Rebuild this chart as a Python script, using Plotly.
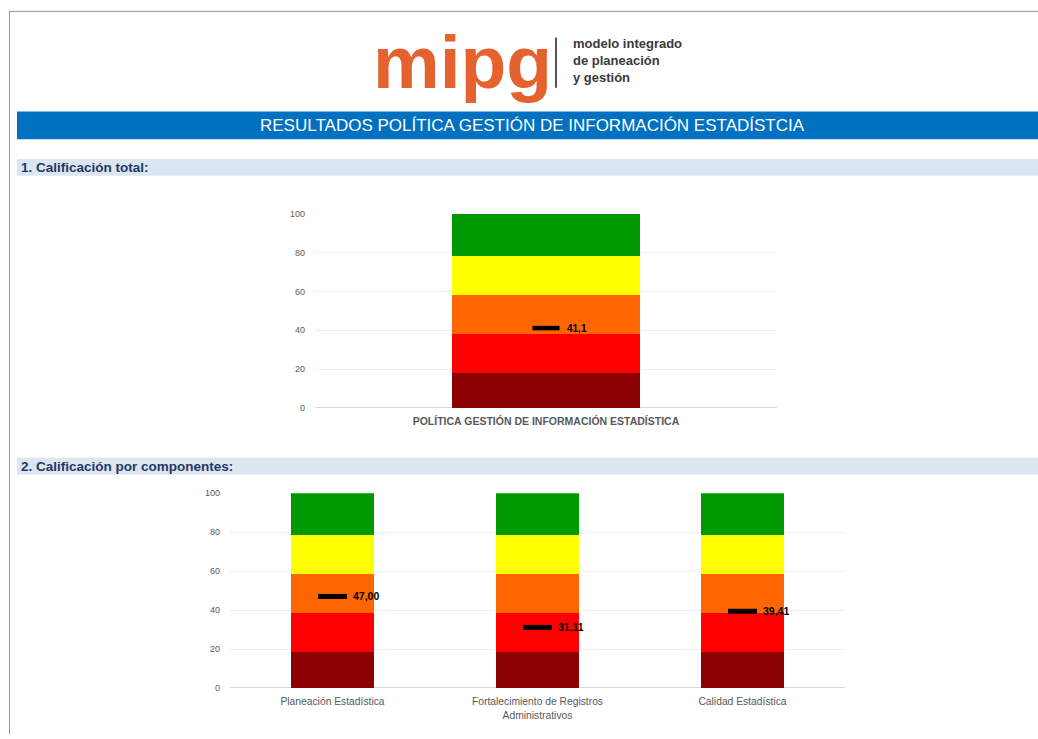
import plotly.graph_objects as go

W, H = 1038, 739

# ---- data ----
total_category = ["POLÍTICA GESTIÓN DE INFORMACIÓN ESTADÍSTICA"]
total_value = [41.1]
total_label = ["41,1"]

comp_categories = ["Planeación Estadística",
                   "Fortalecimiento de Registros<br>Administrativos",
                   "Calidad Estadística"]
comp_values = [47.00, 31.11, 39.41]
comp_labels = ["47,00", "31,11", "39,41"]

band_sizes = [18.4, 20.0, 20.0, 20.1, 21.5]
band_colors = ["#8B0000", "#FF0000", "#FF6600", "#FFFF00", "#009900"]

y_ticks = [0, 20, 40, 60, 80, 100]


def px(x):
    return x / W


def py(y):
    return 1 - y / H


FONT = "Liberation Sans, Arial, sans-serif"
fig = go.Figure()

# bands chart 1
for size, color in zip(band_sizes, band_colors):
    fig.add_trace(go.Bar(x=total_category, y=[size], marker_color=color,
                         marker_line_width=0, width=0.405, xaxis="x", yaxis="y",
                         showlegend=False, hoverinfo="skip"))
# bands chart 2
for size, color in zip(band_sizes, band_colors):
    fig.add_trace(go.Bar(x=comp_categories, y=[size] * len(comp_categories),
                         marker_color=color, marker_line_width=0, width=0.405,
                         xaxis="x2", yaxis="y2", showlegend=False, hoverinfo="skip"))

# markers (line-ew length = 1.4 * size)
fig.add_trace(go.Scatter(x=total_category, y=total_value, mode="markers",
                         marker=dict(symbol="line-ew", size=19.3, color="black",
                                     line=dict(width=4.5, color="black")),
                         xaxis="x", yaxis="y", showlegend=False, hoverinfo="skip"))
fig.add_trace(go.Scatter(x=comp_categories, y=comp_values, mode="markers",
                         marker=dict(symbol="line-ew", size=20.7, color="black",
                                     line=dict(width=5, color="black")),
                         xaxis="x2", yaxis="y2", showlegend=False, hoverinfo="skip"))

annotations = []
for c, v, t in zip(total_category, total_value, total_label):
    annotations.append(dict(x=c, y=v, xref="x", yref="y", text="<b>%s</b>" % t,
                            showarrow=False, xanchor="left", xshift=18.5,
                            font=dict(family=FONT, size=10, color="black")))
for c, v, t in zip(comp_categories, comp_values, comp_labels):
    annotations.append(dict(x=c, y=v, xref="x2", yref="y2", text="<b>%s</b>" % t,
                            showarrow=False, xanchor="left", xshift=18.5,
                            font=dict(family=FONT, size=10.5, color="black")))

# title & section texts
annotations.append(dict(x=px(532), y=py(122), xref="paper", yref="paper",
                        text="RESULTADOS POLÍTICA GESTIÓN DE INFORMACIÓN ESTADÍSTCIA",
                        showarrow=False, xanchor="center", yanchor="middle",
                        font=dict(family=FONT, size=17, color="white")))
annotations.append(dict(x=px(19), y=py(165), xref="paper", yref="paper",
                        text="<b>1. Calificación total:</b>", showarrow=False,
                        xanchor="left", yanchor="middle",
                        font=dict(family=FONT, size=13.5, color="#1F3864")))
annotations.append(dict(x=px(19), y=py(468), xref="paper", yref="paper",
                        text="<b>2. Calificación por componentes:</b>", showarrow=False,
                        xanchor="left", yanchor="middle",
                        font=dict(family=FONT, size=13.5, color="#1F3864")))

# logo
annotations.append(dict(x=px(462), y=py(58), xref="paper", yref="paper",
                        text="<b>mipg</b>", showarrow=False, xanchor="center",
                        yanchor="middle",
                        font=dict(family=FONT, size=75, color="#E5612D")))
for i, line in enumerate(["modelo integrado", "de planeación", "y gestión"]):
    annotations.append(dict(x=px(571), y=py(39 + 17 * i), xref="paper", yref="paper",
                            text="<b>%s</b>" % line, showarrow=False, xanchor="left",
                            yanchor="middle",
                            font=dict(family=FONT, size=13, color="#3A3A3A")))

shapes = [
    dict(type="rect", xref="paper", yref="paper", x0=px(17), x1=1, y0=py(136), y1=py(108),
         fillcolor="#0070C0", line_width=0, layer="below"),
    dict(type="rect", xref="paper", yref="paper", x0=px(17), x1=1, y0=py(173), y1=py(156),
         fillcolor="#DCE6F1", line_width=0, layer="below"),
    dict(type="rect", xref="paper", yref="paper", x0=px(17), x1=1, y0=py(476), y1=py(459),
         fillcolor="#DCE6F1", line_width=0, layer="below"),
    dict(type="line", xref="paper", yref="paper", x0=px(9), x1=1, y0=py(6.5), y1=py(6.5),
         line=dict(color="#8497B0", width=1)),
    dict(type="line", xref="paper", yref="paper", x0=px(9.5), x1=px(9.5), y0=py(6.5), y1=0,
         line=dict(color="#8497B0", width=1)),
    dict(type="line", xref="paper", yref="paper", x0=px(556), x1=px(556), y0=py(33), y1=py(84),
         line=dict(color="#555555", width=2)),
]

axis_common = dict(showgrid=False, showline=False, zeroline=False, ticks="",
                   ticklabelstandoff=6, fixedrange=True)
yaxis_common = dict(range=[0, 100], tickvals=y_ticks, showgrid=True,
                    gridcolor="#EFEFEF", gridwidth=1, zeroline=True,
                    zerolinecolor="#D9D9D9", zerolinewidth=1, showline=False,
                    ticks="", ticklabelstandoff=9,
                    tickfont=dict(family=FONT, size=9, color="#595959"),
                    fixedrange=True)

fig.update_layout(
    width=W, height=H, margin=dict(l=0, r=0, t=0, b=0),
    paper_bgcolor="white", plot_bgcolor="white",
    barmode="stack", bargap=0,
    xaxis=dict(domain=[px(315), px(777)], anchor="y",
               tickfont=dict(family=FONT, size=10.5, color="#595959"),
               tickprefix="<b>", ticksuffix="</b>", **axis_common),
    yaxis=dict(domain=[py(408.5), py(211.5)], anchor="x", **yaxis_common),
    xaxis2=dict(domain=[px(230), px(845)], anchor="y2",
                tickfont=dict(family=FONT, size=10.3, color="#595959"),
                **axis_common),
    yaxis2=dict(domain=[py(692.3), py(495)], anchor="x2", **yaxis_common),
    annotations=annotations, shapes=shapes,
    font=dict(family=FONT),
)

fig.write_html(
    "out.html", config={"displayModeBar": False},
    post_script=(
        "var gd=document.getElementById('{plot_id}');"
        "gd.style.position='fixed';gd.style.top='0px';gd.style.left='0px';"
        "document.body.style.margin='0';document.body.style.padding='0';"
        "document.body.style.height='739px';document.body.style.overflow='hidden';"
        "document.documentElement.style.overflow='hidden';"
    ),
)
